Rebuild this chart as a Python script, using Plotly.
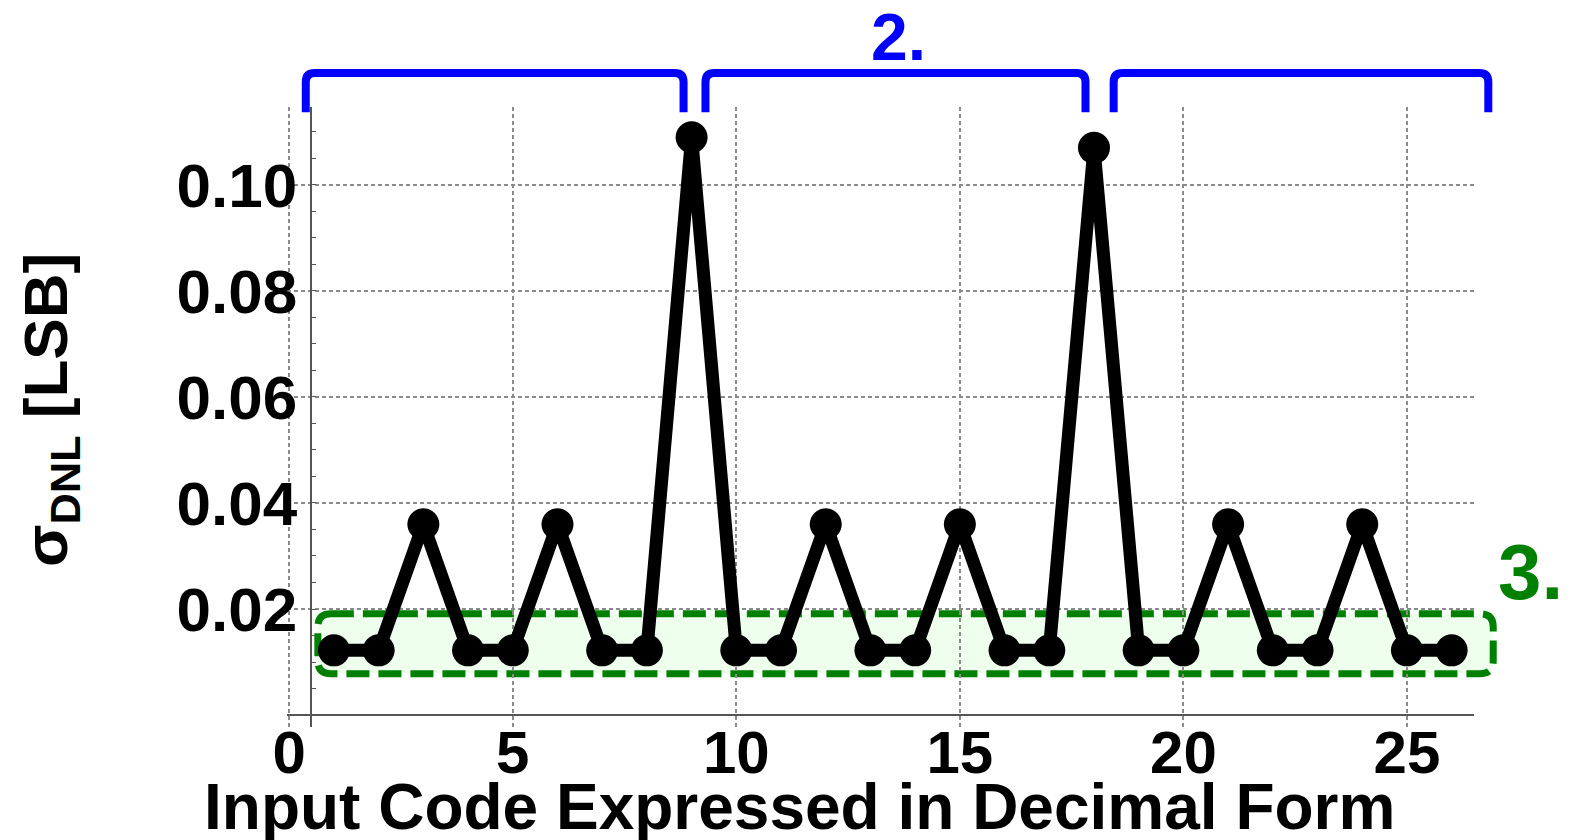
import plotly.graph_objects as go

# ---------------- data ----------------
codes = list(range(1, 27))
sigma_dnl = [0.0122, 0.0122, 0.0360, 0.0122, 0.0122, 0.0360, 0.0122, 0.0122, 0.1090,
             0.0122, 0.0122, 0.0360, 0.0122, 0.0122, 0.0360, 0.0122, 0.0122, 0.1070,
             0.0122, 0.0122, 0.0360, 0.0122, 0.0122, 0.0360, 0.0122, 0.0122]
x_tick_vals = [0, 5, 10, 15, 20, 25]
x_tick_text = ["0", "5", "10", "15", "20", "25"]
y_tick_vals = [0.0, 0.02, 0.04, 0.06, 0.08, 0.10]
y_tick_text = ["", "0.02", "0.04", "0.06", "0.08", "0.10"]

# annotation geometry (in data units)
brackets = [(0.37, 8.82), (9.31, 17.81), (18.44, 26.82)]
bracket_top, bracket_bottom = 0.1211, 0.1137
box_x = (0.64, 26.93)
box_y = (0.0078, 0.0191)

X_RANGE = [-0.05, 26.5]
Y_RANGE = [-0.00226, 0.1147]
W, H = 1578, 840
ML, MR, MT, MB = 287, 104, 107, 113
PW, PH = W - ML - MR, H - MT - MB

FONT = "Liberation Sans, Arial, sans-serif"


def xp(x):
    return (x - X_RANGE[0]) / (X_RANGE[1] - X_RANGE[0])


def yp(y):
    return (y - Y_RANGE[0]) / (Y_RANGE[1] - Y_RANGE[0])


def px2xp(px):
    return (px - ML) / PW


def px2yp(py):
    return (H - MB - py) / PH


fig = go.Figure()
fig.add_trace(go.Scatter(
    x=codes, y=sigma_dnl, mode="lines+markers",
    line=dict(color="black", width=13),
    marker=dict(color="black", size=32),
    showlegend=False, cliponaxis=False,
))

shapes = []
# green dashed rounded box
rx, ry = 13 / PW, 13 / PH
x0, x1 = xp(box_x[0]), xp(box_x[1])
y0, y1 = yp(box_y[0]), yp(box_y[1])
path = (f"M {x0+rx},{y1} L {x1-rx},{y1} Q {x1},{y1} {x1},{y1-ry} "
        f"L {x1},{y0+ry} Q {x1},{y0} {x1-rx},{y0} L {x0+rx},{y0} "
        f"Q {x0},{y0} {x0},{y0+ry} L {x0},{y1-ry} Q {x0},{y1} {x0+rx},{y1} Z")
shapes.append(dict(type="path", path=path, xref="paper", yref="paper",
                   fillcolor="rgba(236,255,236,0.9)",
                   line=dict(color="#008000", width=7, dash="23px,9px"),
                   layer="below"))

# blue brackets
bx, by = 9 / PW, 9 / PH
for a, b in brackets:
    xa, xb = xp(a), xp(b)
    yt, yb = yp(bracket_top), yp(bracket_bottom)
    p = (f"M {xa},{yb} L {xa},{yt-by} Q {xa},{yt} {xa+bx},{yt} "
         f"L {xb-bx},{yt} Q {xb},{yt} {xb},{yt-by} L {xb},{yb}")
    shapes.append(dict(type="path", path=p, xref="paper", yref="paper",
                       line=dict(color="#0000FF", width=8)))

annotations = [
    dict(text="2.", x=px2xp(899), y=px2yp(37), xref="paper", yref="paper",
         showarrow=False, xanchor="center", yanchor="middle",
         font=dict(family=FONT, size=66, color="#0000FF", weight="bold")),
    dict(text="3.", x=px2xp(1530), y=px2yp(572), xref="paper", yref="paper",
         showarrow=False, xanchor="center", yanchor="middle",
         font=dict(family=FONT, size=78, color="#008000", weight="bold")),
    dict(text="Input Code Expressed in Decimal Form", x=px2xp(799), y=px2yp(807),
         xref="paper", yref="paper", showarrow=False, xanchor="center", yanchor="middle",
         font=dict(family=FONT, size=64, color="black", weight="bold")),
    dict(text="σ<sub>DNL</sub> [LSB]", x=px2xp(50), y=px2yp(410),
         xref="paper", yref="paper", showarrow=False, xanchor="center", yanchor="middle",
         textangle=-90,
         font=dict(family=FONT, size=62, color="black", weight="bold")),
]

fig.update_layout(
    width=W, height=H,
    margin=dict(l=ML, r=MR, t=MT, b=MB, pad=0),
    paper_bgcolor="white", plot_bgcolor="white",
    shapes=shapes, annotations=annotations,
    xaxis=dict(range=X_RANGE, tickmode="array", tickvals=x_tick_vals, ticktext=x_tick_text,
               showgrid=True, gridcolor="#8a8a8a", gridwidth=1.5, griddash="4px,3px",
               zeroline=False, showline=False, ticks="", ticklabelstandoff=-15,
               tickfont=dict(family=FONT, size=60, color="black", weight="bold")),
    yaxis=dict(range=Y_RANGE, tickmode="array", tickvals=y_tick_vals, ticktext=y_tick_text,
               anchor="free", position=xp(0.48),
               showgrid=True, gridcolor="#8a8a8a", gridwidth=1.5, griddash="4px,3px",
               zeroline=True, zerolinecolor="#555555", zerolinewidth=1.5,
               showline=True, linecolor="#555555", linewidth=2, ticks="",
               minor=dict(tickmode="linear", tick0=0, dtick=0.005, ticks="inside",
                          ticklen=4, tickcolor="#555555", showgrid=False),
               tickfont=dict(family=FONT, size=62, color="black", weight="bold")),
)

fig.write_html("out.html")
